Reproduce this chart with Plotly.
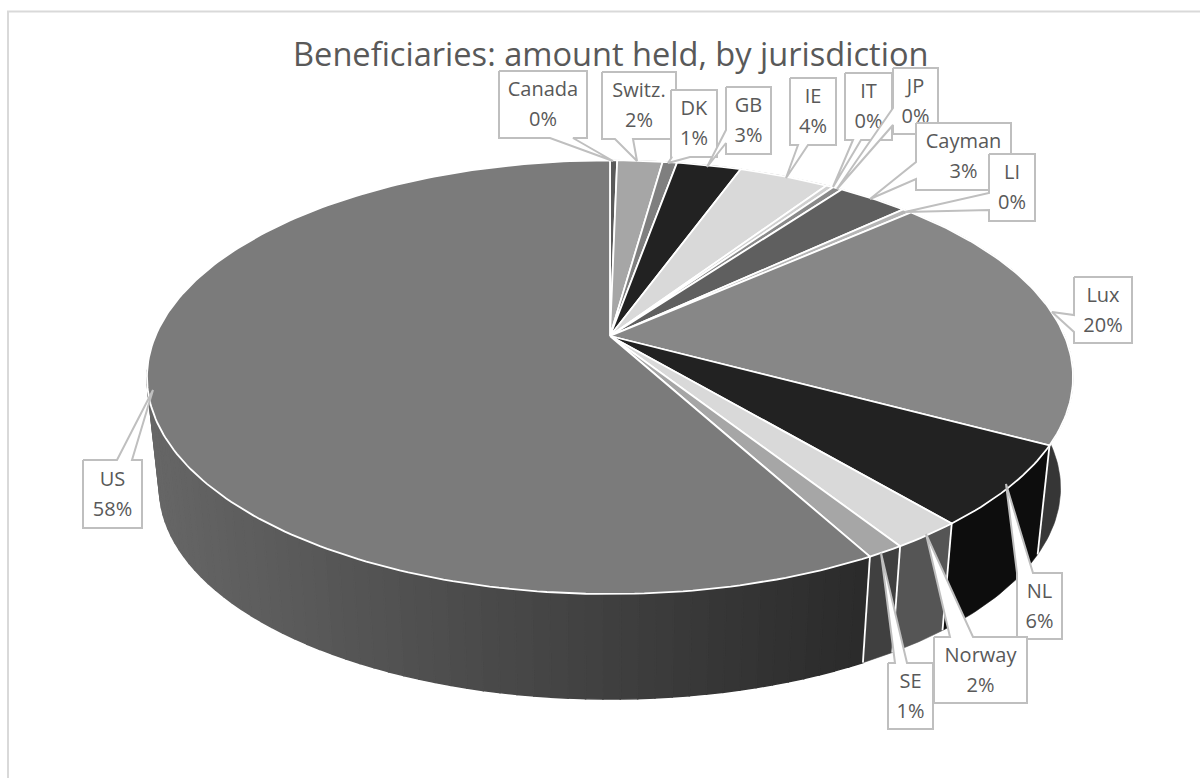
import math
import plotly.graph_objects as go

names = ["Canada", "Switz.", "DK", "GB", "IE", "IT", "JP", "Cayman", "LI", "Lux", "NL", "Norway", "SE", "US"]
shares = [0.3, 1.9, 0.6, 2.7, 3.8, 0.3, 0.4, 3.0, 0.4, 19.5, 6.0, 2.1, 1.1, 57.9]
top_colors = ["#5a5a5a", "#a6a6a6", "#7f7f7f", "#222222", "#d9d9d9", "#d0d0d0", "#8a8a8a", "#5f5f5f", "#b5b5b5",
              "#878787", "#222222", "#d9d9d9", "#a6a6a6", "#7b7b7b"]
wall_colors = ["#333333"] * 9 + ["#363636", "#0d0d0d", "#555555", "#404040", None]
title = "Beneficiaries: amount held, by jurisdiction"

# label boxes: x0, y0, x1, y1, tip, wedge base
boxes = [
    (499, 71, 587, 138, (613, 161), [(550, 138), (573, 138)]),
    (602, 72, 676, 139, (637, 161), [(615, 139), (633, 139)]),
    (671, 90, 717, 157, (668, 163), [(672, 157), (690, 157)]),
    (726, 87, 771, 154, (707, 167), [(726, 130), (726, 143)]),
    (790, 78, 836, 145, (786, 178), [(798, 145), (808, 145)]),
    (845, 73, 892, 140, (833, 187), [(853, 140), (861, 140)]),
    (893, 68, 938, 134, (837, 189), [(893, 108), (893, 125)]),
    (916, 123, 1011, 190, (870, 199), [(916, 162), (916, 179)]),
    (989, 154, 1035, 221, (905, 212), [(989, 193), (989, 210)]),
    (1074, 277, 1132, 343, (1052, 312), [(1074, 315), (1074, 332)]),
    (1017, 573, 1062, 639, (1006, 484), [(1017, 573), (1033, 573)]),
    (934, 637, 1027, 703, (926, 534), [(950, 637), (973, 637)]),
    (888, 663, 933, 729, (881, 553), [(895, 663), (907, 663)]),
    (83, 460, 142, 528, (153, 390), [(117, 460), (132, 460)]),
]
# draw order of the callouts, later ones cover earlier ones
order = [0, 1, 2, 3, 4, 5, 6, 7, 8, 9, 10, 12, 11, 13]

CX, CY = 610, 336
K, A, B = 0.19, 209, 454.6
DEPTH, SHRINK = 112, 0.973
FONT = "Open Sans"
TEXT = "#595959"


def top_pt(deg):
    t = math.radians(deg)
    u, v = math.sin(t), math.cos(t)
    w = 1 + K * v
    return CX + B * u / w, CY - A * v / w


def bot_pt(deg):
    x, y = top_pt(deg)
    return CX + SHRINK * (x - CX), CY + DEPTH + SHRINK * (y - CY)


def arc(fn, a0, a1, step=1.0):
    n = max(2, int(abs(a1 - a0) / step) + 2)
    return [fn(a0 + (a1 - a0) * i / (n - 1)) for i in range(n)]


def poly(pts, fill, line=None, width=0.6):
    xs = [p[0] for p in pts] + [pts[0][0]]
    ys = [p[1] for p in pts] + [pts[0][1]]
    return go.Scatter(x=xs, y=ys, mode="lines", fill="toself", fillcolor=fill,
                      line=dict(color=line or fill, width=width),
                      hoverinfo="skip", showlegend=False)


edges = [0.0]
for s in shares:
    edges.append(edges[-1] + s * 3.6)

fig = go.Figure()

# side wall
for i, name in enumerate(names):
    a0, a1 = edges[i], edges[i + 1]
    if wall_colors[i] is not None:
        if a0 < 180:
            fig.add_trace(poly(arc(top_pt, a0, a1) + arc(bot_pt, a1, a0), wall_colors[i]))
    else:
        # gradient: light on the left end, dark on the right
        strips = 60
        end = min(a1, 261)
        for j in range(strips):
            b0 = a0 + (end - a0) * j / strips
            b1 = a0 + (end - a0) * (j + 1) / strips
            pos = (top_pt(b0)[0] - 150) / (865 - 150)
            g = int(round(0x2b + (0x66 - 0x2b) * (1 - pos)))
            col = "#%02x%02x%02x" % (g, g, g)
            fig.add_trace(poly(arc(top_pt, b0, b1, 2) + arc(bot_pt, b1, b0, 2), col, col, 1.5))

# white separators on the wall
for e in edges[10:14]:
    p, q = top_pt(e), bot_pt(e)
    fig.add_trace(go.Scatter(x=[p[0], q[0]], y=[p[1], q[1]], mode="lines",
                             line=dict(color="white", width=1.8), hoverinfo="skip", showlegend=False))

# top face
for i, name in enumerate(names):
    pts = [(CX, CY)] + arc(top_pt, edges[i], edges[i + 1])
    fig.add_trace(poly(pts, top_colors[i], "white", 1.8))

# callouts and their labels
for i in order:
    x0, y0, x1, y1, tip, base = boxes[i]
    b0, b1 = base
    if b0[1] == y1:  # wedge on the lower side
        outline = [(x0, y0), (x1, y0), (x1, y1), b1, tip, b0, (x0, y1)]
    elif b0[1] == y0:  # wedge on the upper side
        outline = [(x0, y0), b0, tip, b1, (x1, y0), (x1, y1), (x0, y1)]
    else:  # wedge on the left side
        outline = [(x0, y0), (x1, y0), (x1, y1), (x0, y1), b1, tip, b0]
    fig.add_trace(poly(outline, "white", "#bfbfbf", 2))
    xc, yc = (x0 + x1) / 2, (y0 + y1) / 2
    fig.add_trace(go.Scatter(
        x=[xc, xc], y=[yc - 13.5, yc + 16.5], mode="text",
        text=[names[i], f"{round(shares[i])}%"],
        textfont=dict(family=FONT, size=20, color=TEXT), textposition="middle center",
        hoverinfo="skip", showlegend=False))

fig.update_layout(
    width=1200, height=778, margin=dict(l=0, r=0, t=0, b=0),
    paper_bgcolor="white", plot_bgcolor="white", showlegend=False, dragmode=False,
    title=dict(text=title, x=0.509, xanchor="center", y=1 - 55 / 778, yanchor="middle",
               font=dict(family=FONT, size=32.6, color=TEXT)),
    xaxis=dict(range=[0, 1200], visible=False, fixedrange=True),
    yaxis=dict(range=[778, 0], visible=False, fixedrange=True),
    shapes=[dict(type="rect", xref="x", yref="y", x0=8, y0=11.5, x1=1300, y1=850,
                 line=dict(color="#d9d9d9", width=2), layer="below")],
)

fig.write_html("out.html", config={"displayModeBar": False},
               post_script="document.body.style.margin='0';document.body.style.overflow='hidden';")
